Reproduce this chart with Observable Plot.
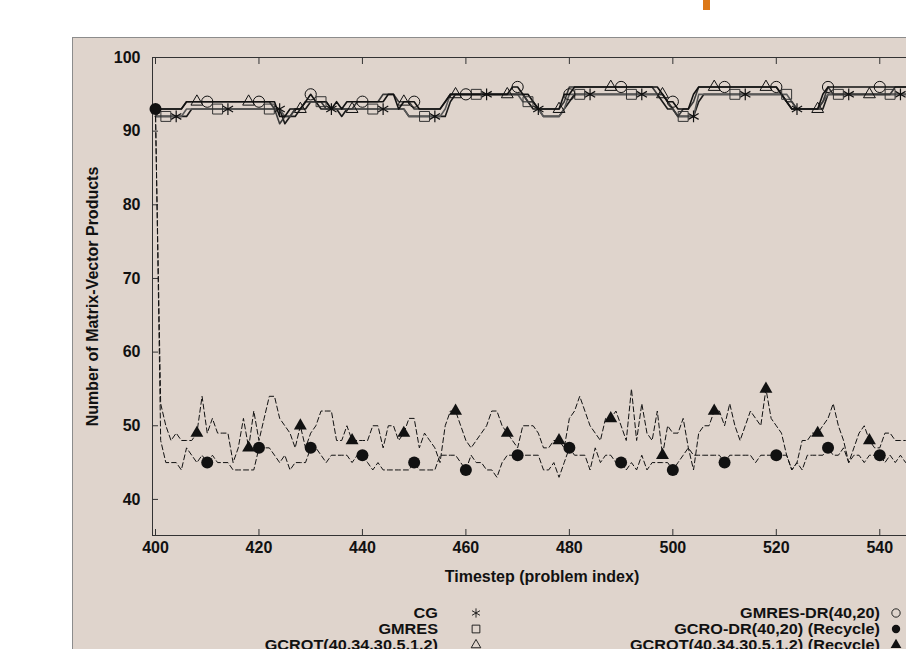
<!DOCTYPE html>
<html><head><meta charset="utf-8">
<script src="https://cdn.jsdelivr.net/npm/d3@7"></script>
<script src="https://cdn.jsdelivr.net/npm/@observablehq/plot@0.6"></script>
<style>
html,body{margin:0;padding:0;background:#fff;overflow:hidden;width:906px;height:649px;}
#box{position:absolute;left:72px;top:37px;width:900px;height:700px;background:#dfd4cc;border:1px solid #8c8c8c;}
#orange{position:absolute;left:703px;top:0;width:7px;height:10px;background:#dc7818;}
#chart{position:absolute;left:0;top:0;width:1000px;height:600px;}
#chart svg{max-width:none !important;width:1000px;height:600px;}
#legend{position:absolute;left:0;top:0;}
</style></head><body>
<div id="orange"></div><div id="box"></div><div id="chart"></div>
<svg id="legend" width="906" height="649"></svg>
<script>
// ---- data ----
const firstStep = 400;
const xTicks = [400, 420, 440, 460, 480, 500, 520, 540];
const yTicks = [40, 50, 60, 70, 80, 90, 100];
const seriesNames = ["CG", "GMRES", "GCROT(40,34,30,5,1,2)", "GMRES-DR(40,20)", "GCRO-DR(40,20) (Recycle)", "GCROT(40,34,30,5,1,2) (Recycle)"];

const cg = [
  92,92,92,92,92,92,92,93,93,93,
  93,93,93,93,93,93,93,93,93,93,
  93,93,93,93,93,91,92,92,93,93,
  94,94,93,93,93,93,92,93,93,93,
  93,93,93,93,93,93,93,93,93,92,
  92,92,92,92,92,92,92,94,95,95,
  95,95,95,95,95,95,95,95,95,95,
  95,95,94,93,93,92,92,92,92,93,
  94,95,95,95,95,95,95,95,95,95,
  95,95,95,95,95,95,95,95,94,93,
  93,92,92,92,92,94,95,95,95,95,
  95,95,95,95,95,95,95,95,95,95,
  95,95,94,93,93,93,93,93,93,93,
  95,95,95,95,95,95,95,95,95,95,
  95,95,95,95,95,95,95];
const gmres = [
  92,92,92,92,92,92,93,93,93,93,
  93,93,93,93,93,93,93,93,93,93,
  93,93,93,93,93,92,92,93,93,94,
  94,94,94,94,93,93,93,93,93,93,
  93,93,93,93,93,93,93,93,93,92,
  92,92,92,92,92,92,93,95,95,95,
  95,95,95,95,95,95,95,95,95,95,
  95,94,94,94,93,92,92,92,92,93,
  95,95,95,95,95,95,95,95,95,95,
  95,95,95,95,95,95,95,95,95,94,
  93,92,92,92,92,95,95,95,95,95,
  95,95,95,95,95,95,95,95,95,95,
  95,95,95,94,93,93,93,93,93,94,
  95,95,95,95,95,95,95,95,95,95,
  95,95,95,95,95,95,95];
const gcrot = [
  92,93,93,93,93,93,94,94,94,94,
  94,94,94,94,94,94,94,94,94,94,
  94,94,94,93,91,92,92,93,93,94,
  94,94,94,93,93,93,93,93,93,94,
  94,94,94,94,95,95,95,94,94,94,
  93,93,93,93,93,93,94,95,95,95,
  95,95,95,95,95,95,95,95,95,95,
  95,95,94,94,93,93,93,93,93,94,
  96,96,96,96,96,96,96,96,96,96,
  96,96,96,96,96,96,96,95,95,94,
  93,92,93,93,94,96,96,96,96,96,
  96,96,96,96,96,96,96,96,96,96,
  96,95,94,94,93,93,93,93,93,94,
  96,95,95,95,95,95,95,95,95,95,
  95,95,95,96,96,96,96];
const gmresDr = [
  93,93,93,93,93,93,94,94,94,94,
  94,94,94,94,94,94,94,94,94,94,
  94,94,94,94,92,92,93,93,93,94,
  95,94,94,94,93,94,93,94,94,94,
  94,94,94,94,94,95,95,93,94,94,
  94,93,93,93,93,93,94,95,95,95,
  95,95,95,95,95,95,95,95,95,96,
  96,95,95,94,93,93,93,93,93,95,
  95,96,96,96,96,96,96,96,96,96,
  96,96,96,96,96,96,96,96,95,94,
  94,93,93,93,95,96,96,96,96,96,
  96,96,96,96,96,96,96,96,96,96,
  96,95,94,93,93,93,93,93,93,95,
  96,96,96,96,96,96,96,96,96,96,
  96,96,96,96,96,96,96];
const gcroDrRecycle = [
  93,48,45,45,45,44,47,46,45,46,
  45,46,45,45,45,44,44,44,44,44,
  47,47,47,46,45,46,44,45,45,45,
  47,47,46,45,46,46,46,46,45,46,
  46,45,44,45,44,44,44,44,44,44,
  45,44,44,44,44,46,46,46,46,45,
  44,46,45,45,44,44,43,45,46,46,
  46,46,46,46,46,44,44,45,43,45,
  47,46,46,46,44,47,45,46,46,45,
  45,44,45,44,46,44,45,45,45,45,
  44,45,46,47,46,46,46,46,46,46,
  45,46,46,46,46,46,45,46,46,46,
  46,46,46,44,45,44,46,46,46,46,
  47,46,46,47,45,46,46,45,46,46,
  46,45,46,45,46,45,46];
const gcrotRecycle = [
  92,53,50,48,49,48,48,48,49,54,
  49,51,49,49,49,45,47,51,47,52,
  48,51,54,54,51,50,49,47,50,47,
  49,50,52,52,52,48,48,50,48,48,
  48,48,50,50,47,50,50,48,49,51,
  51,47,49,48,47,45,50,52,52,50,
  48,47,48,49,50,52,52,50,49,48,
  47,50,50,50,49,47,47,48,48,47,
  51,52,54,52,50,49,48,51,51,52,
  50,48,55,48,53,49,48,52,46,50,
  49,49,51,47,44,49,50,50,52,52,
  50,53,50,48,50,52,51,50,55,51,
  50,49,46,44,45,48,48,49,49,50,
  51,53,50,48,45,47,49,50,48,47,
  47,49,49,48,48,48,48];

// marker placement: first marked step of each series, every 10 steps
const markerStart = [404, 402, 408, 410, 400, 408];

// ---- build table ----
const valueArrays = [cg, gmres, gcrot, gmresDr, gcroDrRecycle, gcrotRecycle];
const rows = [];
valueArrays.forEach((arr, s) => arr.forEach((v, i) => rows.push({series: seriesNames[s], s, t: firstStep + i, v})));
const markerRows = rows.filter(d => d.t >= markerStart[d.s] && (d.t - markerStart[d.s]) % 10 === 0);

const lineStroke = ["#1a1a1a", "#5a5a5a", "#3a3a3a", "#111", "#111", "#111"];
const ink = "#111";

const chart = Plot.plot({
  width: 1000, height: 600,
  marginLeft: 152, marginTop: 57, marginRight: 69, marginBottom: 65,
  style: "background: transparent; max-width: none; font-family: 'Liberation Sans', Arial, sans-serif; font-weight: bold; font-size: 16px; color: #111;",
  x: {domain: [399.42, 550]},
  y: {domain: [35.1, 100]},
  marks: [
    Plot.frame({stroke: "#333"}),
    Plot.axisY({ticks: yTicks, tickSize: -6, tickPadding: 18, label: null, stroke: "#333"}),
    Plot.axisX({ticks: xTicks, tickSize: -6, tickPadding: 12, label: null, stroke: "#333"}),
    Plot.axisX({anchor: "top", ticks: xTicks, tickSize: -6, tickFormat: () => "", label: null, stroke: "#333"}),
    Plot.text(["Timestep (problem index)"], {text: d => d, frameAnchor: "bottom", textAnchor: "middle", dy: 46, fontSize: 16, fontWeight: "bold"}),
    Plot.text(["Number of Matrix-Vector Products"], {text: d => d, frameAnchor: "left", textAnchor: "middle", dx: -60, rotate: -90, fontSize: 16, fontWeight: "bold"}),
    // solid lines
    ...[0,1,2,3].map(s => Plot.line(rows.filter(d => d.s === s), {x: "t", y: "v", stroke: lineStroke[s], strokeWidth: 1.6})),
    // dashed lines
    ...[4,5].map(s => Plot.line(rows.filter(d => d.s === s), {x: "t", y: "v", stroke: ink, strokeWidth: 1, strokeDasharray: "5,3"})),
    // markers
    Plot.dot(markerRows.filter(d => d.s === 0), {x: "t", y: "v", symbol: "asterisk", r: 5.6, stroke: ink, strokeWidth: 1.2}),
    Plot.dot(markerRows.filter(d => d.s === 1), {x: "t", y: "v", symbol: "square", r: 5.6, stroke: "#333", fill: "none", strokeWidth: 1}),
    Plot.dot(markerRows.filter(d => d.s === 2), {x: "t", y: "v", symbol: "triangle", r: 4.4, stroke: ink, fill: "none", strokeWidth: 1}),
    Plot.dot(markerRows.filter(d => d.s === 3), {x: "t", y: "v", symbol: "circle", r: 5.6, stroke: ink, fill: "none", strokeWidth: 1}),
    Plot.dot(markerRows.filter(d => d.s === 4), {x: "t", y: "v", symbol: "circle", r: 6, fill: ink, stroke: "none"}),
    Plot.dot(markerRows.filter(d => d.s === 5), {x: "t", y: "v", symbol: "triangle", r: 4.8, fill: ink, stroke: "none"})
  ]
});
document.getElementById("chart").appendChild(chart);

// ---- legend ----
const legendSymbols = [
  {sym: d3.symbolAsterisk, size: 60, fill: "none"},
  {sym: d3.symbolSquare, size: 60, fill: "none"},
  {sym: d3.symbolTriangle, size: 40, fill: "none"},
  {sym: d3.symbolCircle, size: 55, fill: "none"},
  {sym: d3.symbolCircle, size: 55, fill: ink},
  {sym: d3.symbolTriangle, size: 50, fill: ink}
];
const lg = d3.select("#legend").style("font-family", "'Liberation Sans', Arial, sans-serif").style("font-weight", "bold");
seriesNames.forEach((name, i) => {
  const col = i < 3 ? 0 : 1, row = i % 3;
  const tx = col === 0 ? 438 : 880, sx = col === 0 ? 476 : 896, y = 613 + row * 16;
  const t = lg.append("text").attr("x", tx).attr("y", y).attr("text-anchor", "end").attr("dominant-baseline", "central")
    .attr("font-size", 14.5).attr("fill", ink).text(name);
  const w = t.node().getComputedTextLength();
  t.attr("textLength", w * 1.12).attr("lengthAdjust", "spacingAndGlyphs");
  const s = legendSymbols[i];
  lg.append("path").attr("d", d3.symbol(s.sym, s.size)()).attr("transform", `translate(${sx},${y})`)
    .attr("fill", s.fill).attr("stroke", ink).attr("stroke-width", s.fill === "none" ? 0.9 : 0);
});
</script>
</body></html>
